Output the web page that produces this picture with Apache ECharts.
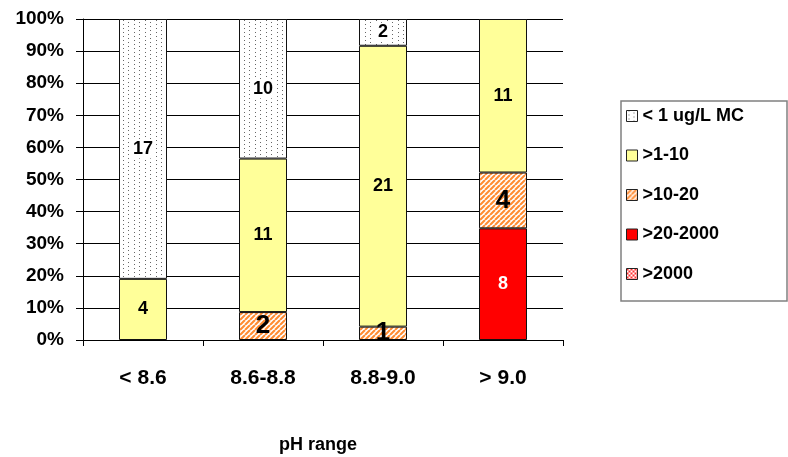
<!DOCTYPE html>
<html>
<head>
<meta charset="utf-8">
<script src="https://cdn.jsdelivr.net/npm/echarts@6/dist/echarts.min.js"></script>
<style>
  html, body { margin: 0; padding: 0; background: #fff; }
  #chart { width: 788px; height: 457px; }
</style>
</head>
<body>
<div id="chart"></div>
<script>
// pH classes and microcystin concentration classes (counts of samples)
const categories = ['< 8.6', '8.6-8.8', '8.8-9.0', '> 9.0'];
const seriesNames = ['< 1 ug/L MC', '>1-10', '>10-20', '>20-2000', '>2000'];
const below1 = [17, 10, 2, 0];
const from1to10 = [4, 11, 21, 11];
const from10to20 = [0, 2, 1, 4];
const from20to2000 = [0, 0, 0, 8];
const above2000 = [0, 0, 0, 0];
const yTicks = [0, 10, 20, 30, 40, 50, 60, 70, 80, 90, 100];

const FONT = '"Liberation Sans", Arial, Helvetica, sans-serif';

// Fill patterns
function makeTile(w, h, draw) {
  const c = document.createElement('canvas');
  c.width = w; c.height = h;
  const ctx = c.getContext('2d');
  draw(ctx, w, h);
  return { image: c, repeat: 'repeat' };
}
const dotFill = makeTile(11, 4, (ctx, w, h) => {
  ctx.fillStyle = '#ffffff'; ctx.fillRect(0, 0, w, h);
  ctx.fillStyle = '#666666';
  ctx.fillRect(2, 0, 1, 1);
  ctx.fillRect(7, 2, 1, 1);
});
const hatchFill = makeTile(5, 5, (ctx, w, h) => {
  ctx.fillStyle = '#ffffff'; ctx.fillRect(0, 0, w, h);
  ctx.strokeStyle = '#ff8c33';
  ctx.lineWidth = 2.1;
  ctx.beginPath();
  for (let k = -2; k <= 2; k++) {
    ctx.moveTo(k * w, h);
    ctx.lineTo(k * w + w, 0);
  }
  ctx.stroke();
});
const checkFill = makeTile(4, 4, (ctx, w, h) => {
  ctx.fillStyle = '#ffffff'; ctx.fillRect(0, 0, w, h);
  ctx.fillStyle = '#ff3030';
  ctx.fillRect(0, 0, 2, 2);
  ctx.fillRect(2, 2, 2, 2);
});

const counts = [below1, from1to10, from10to20, from20to2000, above2000];
const totals = categories.map((_, i) => counts.reduce((s, arr) => s + arr[i], 0));
// share of each class within its pH column; empty classes are left out
function toPercent(arr) {
  return arr.map((v, i) => ({ value: v ? v / totals[i] * 100 : '-', count: v }));
}

function makeSeries(name, arr, fill, label) {
  return {
    name: name,
    type: 'bar',
    stack: 'all',
    barWidth: '40%',
    data: toPercent(arr),
    itemStyle: { color: fill, borderColor: '#111', borderWidth: 1 },
    label: Object.assign({
      show: true,
      position: 'inside',
      fontFamily: FONT,
      fontWeight: 'bold',
      fontSize: 18,
      color: '#000',
      formatter: p => (p.data.count ? String(p.data.count) : '')
    }, label || {})
  };
}

const chart = echarts.init(document.getElementById('chart'), null, { renderer: 'canvas' });
chart.setOption({
  animation: false,
  backgroundColor: '#ffffff',
  grid: { left: 83, right: 225, top: 19, bottom: 117, outerBoundsMode: 'none' },
  legend: {
    orient: 'vertical',
    left: 621,
    top: 101,
    data: seriesNames,
    icon: 'rect',
    itemWidth: 11,
    itemHeight: 11,
    itemGap: 21.5,
    itemTextGap: 7,
    padding: [6, 43, 18, 5],
    borderColor: '#808080',
    borderWidth: 1.5,
    backgroundColor: '#ffffff',
    itemStyle: { borderColor: '#222', borderWidth: 1 },
    textStyle: { fontFamily: FONT, fontWeight: 'bold', fontSize: 18, color: '#000' }
  },
  xAxis: {
    type: 'category',
    data: categories,
    name: 'pH range',
    nameLocation: 'middle',
    nameGap: 96,
    nameTextStyle: { fontFamily: FONT, fontWeight: 'bold', fontSize: 18, color: '#000', padding: [0, 10, 0, 0] },
    axisLine: { lineStyle: { color: '#000', width: 1 } },
    axisTick: { show: true, length: 6, lineStyle: { color: '#000' } },
    axisLabel: { margin: 28, fontFamily: FONT, fontWeight: 'bold', fontSize: 21, color: '#000' }
  },
  yAxis: {
    type: 'value',
    min: yTicks[0],
    max: yTicks[yTicks.length - 1],
    interval: yTicks[1] - yTicks[0],
    axisLine: { show: true, lineStyle: { color: '#000', width: 1 } },
    axisTick: { show: true, length: 7, lineStyle: { color: '#000' } },
    splitLine: { show: true, lineStyle: { color: '#000', width: 1 } },
    axisLabel: {
      margin: 19,
      fontFamily: FONT, fontWeight: 'bold', fontSize: 19, color: '#000',
      formatter: '{value}%'
    }
  },
  series: [
    makeSeries(seriesNames[4], above2000, checkFill),
    makeSeries(seriesNames[3], from20to2000, '#ff0000', { color: '#ffffff' }),
    makeSeries(seriesNames[2], from10to20, hatchFill, { fontSize: 26 }),
    makeSeries(seriesNames[1], from1to10, '#ffff99'),
    makeSeries(seriesNames[0], below1, dotFill, { backgroundColor: '#ffffff', padding: [1, 2, 0, 2] })
  ]
});
</script>
</body>
</html>
